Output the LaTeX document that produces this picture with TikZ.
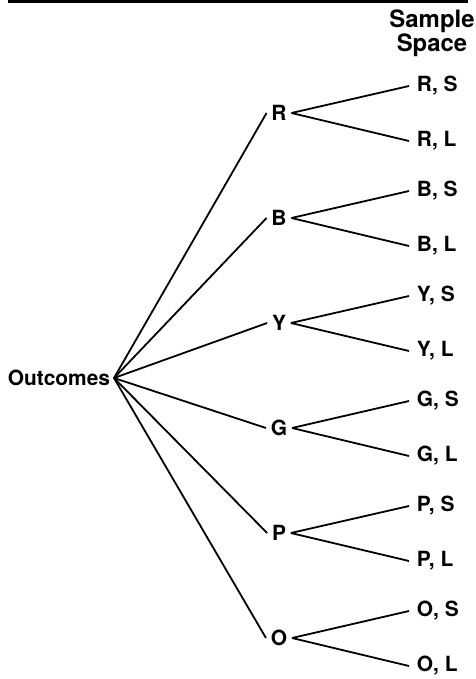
\documentclass[tikz,border=0pt]{standalone}
\usepackage{fontspec}
\setmainfont{TeX Gyre Heros}
\usepackage{tikz}

\begin{document}
\begin{tikzpicture}[x=1bp, y=-1bp, line width=1.8bp,
		lbl/.style={font=\fontsize{21}{23}\selectfont\bfseries, inner sep=0bp},
		branch/.style={lbl, inner xsep=4bp},
		leaf/.style={lbl, anchor=west, inner xsep=7bp}]
		\useasboundingbox (0,0) rectangle (476,679);

		% Rule at the top
		\fill (8,0) rectangle (468,3.5);

		% Heading
		\node (head) at (432,33) [lbl, align=center,
			font=\fontsize{24}{22}\selectfont\bfseries] {Sample\\Space};

		% Root
		\node (out) at (114,378) [lbl, anchor=east, inner xsep=3bp] {Outcomes};

		% First and second branches
		\foreach \c [count=\i] in {R,B,Y,G,P,O} {
			\pgfmathsetmacro{\yy}{113+105*(\i-1)}
			\node (\c) at (279,\yy) [branch] {\c};
			\node (\c S) at (409,\yy-27) [leaf] {\c, S};
			\node (\c L) at (409,\yy+28) [leaf] {\c, L};
			\draw (out.east) -- (\c.west);
			\draw (\c.east) -- (\c S.west);
			\draw (\c.east) -- (\c L.west);
		}
	\end{tikzpicture}
\end{document}
